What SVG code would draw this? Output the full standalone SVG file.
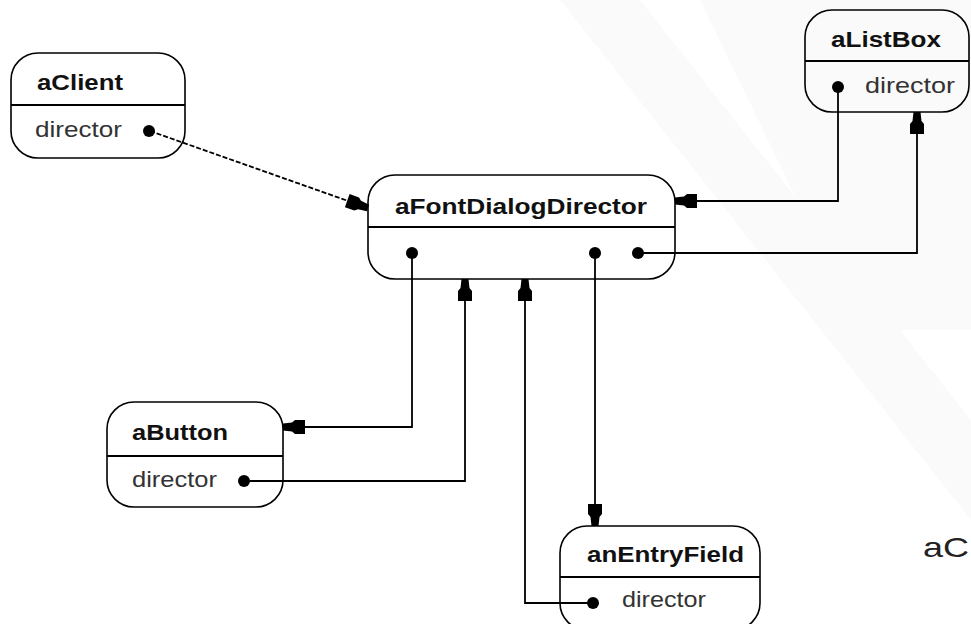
<svg xmlns="http://www.w3.org/2000/svg" width="971" height="624" viewBox="0 0 971 624">
<style>
.box{fill:none;stroke:#000;stroke-width:1.6}
.div{stroke:#000;stroke-width:2}
.title{font-family:"Liberation Sans",Arial,sans-serif;font-size:21.5px;font-weight:bold;fill:#111}
.attr{font-family:"Liberation Sans",Arial,sans-serif;font-size:21.5px;fill:#333}
.dot{fill:#000}
.conn{fill:none;stroke:#000;stroke-width:1.8}
.dash{stroke-dasharray:5 2}
</style>
<defs>
<marker id="arr" markerUnits="userSpaceOnUse" viewBox="-23 -9 24 18" refX="0" refY="0" markerWidth="24" markerHeight="18" orient="auto">
<path d="M0,-3.5 L-9,-4.5 L-12,-7 L-22,-7 L-22,7 L-12,7 L-9,4.5 L0,3.5 Z" fill="#000"/>
</marker>
</defs>
<rect width="971" height="624" fill="#fff"/>
<g id="watermark" fill="#fafafa">
<polygon points="700,0 971,0 971,330 860,330"/>
<polygon points="560,0 640,0 971,420 971,520"/>
</g>
<g id="connectors">
<path class="conn dash" d="M150,131 L368,208" marker-end="url(#arr)"/>
<path class="conn" d="M412,253 V427 H283" marker-end="url(#arr)"/>
<path class="conn" d="M245,481 H465 V279" marker-end="url(#arr)"/>
<path class="conn" d="M595,253 V526" marker-end="url(#arr)"/>
<path class="conn" d="M593,603 H525 V279" marker-end="url(#arr)"/>
<path class="conn" d="M838,87 V201 H675" marker-end="url(#arr)"/>
<path class="conn" d="M638,253 H917 V112" marker-end="url(#arr)"/>
</g>
<g id="aClient">
<rect class="box" x="11" y="53" width="174" height="105" rx="27"/>
<line class="div" x1="11" y1="105" x2="185" y2="105"/>
<text class="title" x="37" y="90" textLength="86" lengthAdjust="spacingAndGlyphs">aClient</text>
<text class="attr" x="35" y="137" textLength="87" lengthAdjust="spacingAndGlyphs">director</text>
<circle class="dot" cx="149" cy="131" r="6"/>
</g>
<g id="aFontDialogDirector">
<rect class="box" x="368" y="175" width="307" height="104" rx="27"/>
<line class="div" x1="368" y1="227" x2="675" y2="227"/>
<text class="title" x="395" y="214" textLength="252" lengthAdjust="spacingAndGlyphs">aFontDialogDirector</text>
<circle class="dot" cx="412" cy="253" r="6"/>
<circle class="dot" cx="595" cy="253" r="6"/>
<circle class="dot" cx="638" cy="253" r="6"/>
</g>
<g id="aListBox">
<rect class="box" x="805" y="10" width="164" height="102" rx="27"/>
<line class="div" x1="805" y1="61" x2="969" y2="61"/>
<text class="title" x="831" y="47" textLength="110" lengthAdjust="spacingAndGlyphs">aListBox</text>
<text class="attr" x="865" y="93" textLength="90" lengthAdjust="spacingAndGlyphs">director</text>
<circle class="dot" cx="838" cy="87" r="6"/>
</g>
<g id="aButton">
<rect class="box" x="107" y="402" width="176" height="105" rx="27"/>
<line class="div" x1="107" y1="456" x2="283" y2="456"/>
<text class="title" x="132" y="440" textLength="96" lengthAdjust="spacingAndGlyphs">aButton</text>
<text class="attr" x="132" y="487" textLength="85" lengthAdjust="spacingAndGlyphs">director</text>
<circle class="dot" cx="244" cy="481" r="6"/>
</g>
<g id="anEntryField">
<rect class="box" x="560" y="526" width="200" height="104" rx="27"/>
<line class="div" x1="560" y1="577" x2="760" y2="577"/>
<text class="title" x="587" y="562" textLength="157" lengthAdjust="spacingAndGlyphs">anEntryField</text>
<text class="attr" x="622" y="607" textLength="84" lengthAdjust="spacingAndGlyphs">director</text>
<circle class="dot" cx="593" cy="603" r="6"/>
</g>
<text x="923" y="557" font-family="Liberation Sans, Arial, sans-serif" font-size="28" fill="#222" textLength="46" lengthAdjust="spacingAndGlyphs">aC</text>
</svg>
